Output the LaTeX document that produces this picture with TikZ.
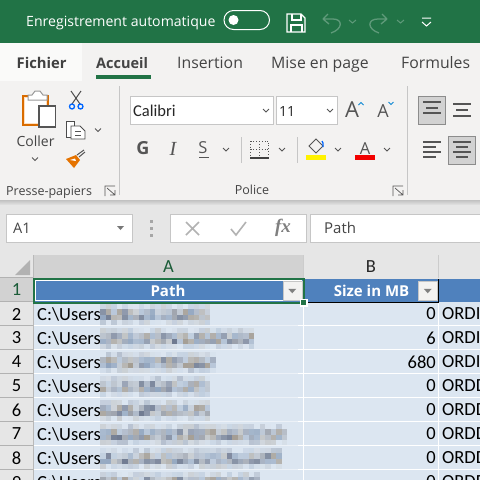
\documentclass[tikz,border=0pt]{standalone}
\usepackage{fontspec}
\usepackage{xcolor}
\setmainfont{Open Sans}
\newfontfamily\cellfont{Carlito}
\newfontfamily\serifont{Liberation Serif}
\usetikzlibrary{positioning}
\definecolor{xlgreen}{HTML}{217346}
\definecolor{ribbonbg}{HTML}{F3F2F1}
\definecolor{gridbg}{HTML}{E6E6E6}
\definecolor{headsel}{HTML}{D2D2D2}
\definecolor{tabink}{HTML}{444444}
\definecolor{headblue}{HTML}{4F81BD}
\definecolor{cellblue}{HTML}{DCE6F1}
\definecolor{boxline}{HTML}{C6C6C6}
\definecolor{iconink}{HTML}{555555}
\definecolor{smudgea}{HTML}{6F7A90}
\definecolor{smudgeb}{HTML}{A39C92}
\definecolor{smudgec}{HTML}{8FA3BD}
\definecolor{smudged}{HTML}{9A9FA8}
\begin{document}
\begin{tikzpicture}[x=1pt,y=-1pt,
    tab/.style={font=\fontsize{15.8}{18}\selectfont,text=tabink,inner sep=0pt,anchor=base west},
    grouplabel/.style={font=\fontsize{12.5}{14}\selectfont,text=tabink,inner sep=0pt},
    inputbox/.style={draw=boxline,fill=white,line width=0.8pt},
    chevron/.style={draw=iconink,line width=0.9pt},
    sep/.style={draw=boxline,line width=0.8pt},
    toggled/.style={draw=gray!90,fill=headsel,line width=0.8pt},
    rulelines/.style={draw=iconink,line width=1.1pt},
    rownum/.style={font=\cellfont\fontsize{18.5}{20}\selectfont,inner sep=0pt},
    celltext/.style={font=\cellfont\fontsize{18.5}{20}\selectfont,inner sep=0pt},
    headtext/.style={font=\bfseries\fontsize{15}{16}\selectfont,text=white,inner sep=0pt},
    launcher/.style={draw=iconink,line width=0.7pt},
    filterbtn/.style={draw=gray!45,fill=ribbonbg,line width=0.5pt}]
    \clip (0,0) rectangle (480,480);
    \useasboundingbox (0,0) rectangle (480,480);
    % bands
    \fill[xlgreen] (0,0) rectangle (480,43);
    \fill[ribbonbg] (0,43) rectangle (480,200);
    \fill[gridbg] (0,205) rectangle (480,480);
    \foreach \y/\k in {200/16,201/13,202/10,203/7,204/4} \fill[black!\k!gridbg] (0,\y) rectangle (480,\y+1);
    \fill[ribbonbg!40!white] (0,43) rectangle (82,81);
    % title bar
    \node[font=\fontsize{14.1}{16}\selectfont,text=white,inner sep=0pt,anchor=base west] (autosave) at (26,26) {Enregistrement automatique};
    \draw[white,line width=1pt,rounded corners=9.5pt] (224,10.5) rectangle (269.5,29.5);
    \fill[white] (233.5,20) circle (5pt);
    \draw[white,line width=1.2pt] (287,14) -- (301,14) -- (305,18) -- (305,32) -- (287,32) -- cycle;
    \draw[white,line width=1.2pt] (292,14) -- (292,20) -- (301,20) -- (301,14) (291,32) -- (291,25) -- (302,25) -- (302,32);
    \draw[white!28!xlgreen,line width=1.3pt] (323,19) -- (328,14) (323,19) -- (329,24) (323,19) -- (333,19) .. controls (343,19) and (343,29) .. (331,33);
    \draw[white!28!xlgreen,line width=1.3pt] (387,19) -- (382,14) (387,19) -- (381,24) (387,19) -- (378,19) .. controls (367,19) and (367,29) .. (379,33);
    \draw[white!28!xlgreen,line width=1pt] (349,20) -- (352.5,23) -- (356,20) (397,20) -- (400.5,23) -- (404,20);
    \draw[white,line width=1pt] (422,18) -- (431,18) (422,22) -- (426.5,26) -- (431,22);
    % tabs
    \node[tab,font=\bfseries\fontsize{14.8}{16}\selectfont,text=black!75] (fichier) at (16.5,68) {Fichier};
    \node[tab,font=\fontsize{14.5}{16}\selectfont\bfseries,text=tabink] (accueil) at (96,68) {Accueil};
    \node[tab] (insertion) at (177,68) {Insertion};
    \node[tab] (miseenpage) at (271,68) {Mise en page};
    \node[tab] (formules) at (401,68) {Formules};
    \fill[xlgreen] (96,75) rectangle (151,79);
    % presse-papiers group
    \draw[draw=orange!85!black,fill=orange!25,line width=1.2pt] (23,96) rectangle (48,125);
    \fill[white] (25,98) rectangle (46,123);
    \draw[draw=gray!80,fill=white,line width=1pt] (28,100) -- (28,95) -- (32,95) -- (35,91) -- (40,91) -- (43,95) -- (47,95) -- (47,100) -- cycle;
    \draw[draw=iconink,fill=white,line width=1.1pt] (39,106) rectangle (55.5,127);
    \draw[draw=black!70,line width=1pt] (71,91) -- (80,104) (81,91) -- (72,104);
    \draw[draw=blue!60!cyan,line width=1.3pt] (72,106.5) circle (2.5pt) (80.5,106.5) circle (2.5pt);
    \draw[draw=black!70,fill=white,line width=0.9pt] (66,121) -- (74,121) -- (74,137) -- (66,137) -- cycle;
    \draw[draw=black!70,fill=white,line width=0.9pt] (71,126) -- (80,126) -- (85,131) -- (85,139) -- (71,139) -- cycle;
    \draw[draw=iconink,line width=0.6pt] (75,131) -- (81,131) (75,135) -- (81,135);
    \draw[chevron] (95,128.5) -- (98,131.5) -- (101,128.5);
    \node[grouplabel,font=\fontsize{14}{16}\selectfont] (coller) at (35.5,141) {Coller};
    \draw[chevron] (32,157.5) -- (35,160.5) -- (38,157.5);
    \fill[orange!90!black] (66,159) -- (76,155) -- (80,160) -- (74,168) -- cycle;
    \fill[white] (70,160) -- (75,158.5) -- (76,161) -- cycle;
    \draw[draw=iconink,line width=1pt] (77,155) -- (84,150) (79,157) -- (85,152);
    \node[grouplabel,anchor=base west] (pressepapiers) at (6,195) {Presse-papiers};
    \draw[launcher] (105,196) -- (105,186) -- (115,186) (107,188) -- (115,195) (115,190) -- (115,195) -- (110,195);
    \draw[sep] (119.5,86) -- (119.5,195);
    % police group
    \draw[inputbox] (130.5,96.5) rectangle (273.5,124.5);
    \node[font=\cellfont\fontsize{16.5}{18}\selectfont,inner sep=0pt,anchor=base west,text=black!85] (fontname) at (133,116) {Calibri};
    \draw[chevron] (263,109) -- (266,112) -- (269,109);
    \draw[inputbox] (276.5,96.5) rectangle (337.5,124.5);
    \node[font=\fontsize{14}{16}\selectfont,inner sep=0pt,anchor=base west,text=black!85] (fontsize) at (279,116) {11};
    \draw[chevron] (327,109) -- (330,112) -- (333,109);
    \node[font=\fontsize{22}{22}\selectfont,text=iconink,inner sep=0pt,anchor=base] (growfont) at (352,117) {A};
    \draw[cyan!70!blue,line width=1pt] (358.5,105) -- (361,102.5) -- (363.5,105);
    \node[font=\fontsize{18}{18}\selectfont,text=iconink,inner sep=0pt,anchor=base] (shrinkfont) at (383,117) {A};
    \draw[cyan!70!blue,line width=1pt] (388.5,102) -- (391,104.5) -- (393.5,102);
    \node[font=\bfseries\fontsize{18}{18}\selectfont,text=iconink,inner sep=0pt] (bold) at (143,148.5) {G};
    \node[font=\serifont\itshape\fontsize{20}{20}\selectfont,text=iconink,inner sep=0pt] (italic) at (173,148.5) {I};
    \node[font=\fontsize{16.5}{18}\selectfont,text=iconink,inner sep=0pt] (underline) at (203,148) {S};
    \draw[iconink,line width=1pt] (199,157.5) -- (209,157.5);
    \draw[chevron] (223,148) -- (226,151) -- (229,148);
    \draw[sep] (241.5,137) -- (241.5,163) (297.5,137) -- (297.5,163);
    \draw[draw=iconink,dotted,line width=0.8pt] (250.5,141) rectangle (268.5,157) (259.5,141) -- (259.5,157) (250.5,149) -- (268.5,149);
    \draw[black!75,line width=1.2pt] (250,158) -- (269,158);
    \draw[chevron] (279,148) -- (282,151) -- (285,148);
    \draw[draw=iconink,line width=0.9pt] (309,146) -- (316,139) -- (323,146) -- (316,153) -- cycle;
    \draw[blue!60!cyan,line width=1.2pt] (322,141) -- (323,143) -- (323,147);
    \fill[yellow] (306,155) rectangle (326,160);
    \draw[chevron] (335,148) -- (338,151) -- (341,148);
    \node[font=\fontsize{16.5}{18}\selectfont,text=iconink,inner sep=0pt,anchor=base] (fontcolor) at (365,154) {A};
    \fill[red!95!black] (355,155) rectangle (375,160);
    \draw[chevron] (384,148) -- (387,151) -- (390,148);
    \node[grouplabel] (police) at (252,190) {Police};
    \draw[launcher] (393,196) -- (393,186) -- (403,186) (395,188) -- (403,195) (403,190) -- (403,195) -- (398,195);
    \draw[sep] (407.5,86) -- (407.5,195);
    % alignment group
    \draw[toggled] (418.5,96.5) rectangle (445.5,124.5);
    \draw[toggled] (448.5,136.5) rectangle (475.5,164.5);
    \draw[rulelines] (423,102) -- (441,102) (426,108) -- (438,108) (423,113) -- (441,113);
    \draw[rulelines] (453,104) -- (471,104) (456,110) -- (468,110) (453,116) -- (471,116);
    \draw[rulelines] (423,142) -- (441,142) (423,147) -- (436,147) (423,152) -- (441,152) (423,157) -- (436,157);
    \draw[rulelines] (453,142) -- (471,142) (456,147) -- (468,147) (453,152) -- (471,152) (456,157) -- (468,157);
    % formula bar
    \draw[inputbox] (6.5,214.5) rectangle (132.5,242.5);
    \node[font=\fontsize{14.5}{16}\selectfont,text=tabink,inner sep=0pt,anchor=base west] (namebox) at (13,233) {A1};
    \fill[iconink!80] (117,226) -- (124,226) -- (120.5,230) -- cycle;
    \foreach \y in {221,228,235} \fill[gray!70] (149.5,\y-1.5) rectangle (152.5,\y+1.5);
    \draw[inputbox] (170.5,214.5) rectangle (306.5,242.5);
    \draw[boxline!90!black,line width=1.6pt] (186,222) -- (199,235) (199,222) -- (186,235);
    \draw[boxline!90!black,line width=1.6pt] (231,229) -- (236,235) -- (246,222);
    \node[font=\serifont\itshape\bfseries\fontsize{19}{20}\selectfont,text=gray,inner sep=0pt] (fxbtn) at (283,228) {fx};
    \draw[inputbox] (310.5,214.5) rectangle (482,242.5);
    \node[font=\fontsize{15}{16}\selectfont,text=tabink,inner sep=0pt,anchor=base west] (formula) at (324,233) {Path};
    % sheet headers
    \fill[headsel] (33,255) rectangle (303,278);
    \fill[headsel] (0,278) rectangle (33,302);
    \fill[gray!60] (30,260) -- (30,275) -- (15,275) -- cycle;
    \node[rownum,text=xlgreen!80!black] (colA) at (168.5,267) {A};
    \node[rownum,text=black!85] (colB) at (371,267) {B};
    \draw[gray!40,line width=0.7pt] (303.5,255) -- (303.5,278) (438.5,255) -- (438.5,278);
    \draw[gray!55,line width=0.8pt] (33.5,255) -- (33.5,480);
    % data cells
    \fill[cellblue] (34,302) rectangle (480,480);
    \fill[headblue] (34,279) rectangle (480,302);
    \draw[black,line width=0.9pt] (304,302.5) -- (438,302.5) (438.5,279) -- (438.5,302.5);
    \foreach \r in {326,350,374,398,422,446,470} {
        \draw[white,line width=1pt] (34,\r-0.5) -- (480,\r-0.5);
        \draw[cellblue!55!white,line width=1pt] (100,\r-0.5) -- (298,\r-0.5);
        \draw[gray!60,line width=0.9pt] (0,\r-0.5) -- (33,\r-0.5);
    }
    \draw[gray!60,line width=0.9pt] (0,301.5) -- (33,301.5) (0,277.5) -- (33,277.5);
    \draw[white,line width=1pt] (303.5,302) -- (303.5,480) (438.5,303) -- (438.5,480);
    % row numbers
    \foreach \n [evaluate=\n as \ypos using {278+24*(\n-1)+12}] in {2,...,9} {
        \node[rownum] (row\n) at (16.5,\ypos) {\n};
    }
    \node[rownum,text=xlgreen!80!black] (row1) at (16.5,290) {1};
    % headers in table
    \node[headtext] (pathhead) at (168,290.5) {Path};
    \node[headtext] (sizehead) at (371.5,290.5) {Size in MB};
    \draw[white,line width=0.8pt] (35.2,280.2) rectangle (301.8,300.8);
    \foreach \x/\name in {282.5/pathfilter,418/sizefilter} {
        \node[filterbtn,minimum width=19pt,minimum height=19pt,inner sep=0pt,anchor=north west] (\name) at (\x,281) {};
        \fill[gray] (\name.center) ++(-4,-2) -- ++(8,0) -- ++(-4,4.5) -- cycle;
    }
    \draw[xlgreen,line width=2pt] (33.5,278.5) rectangle (303.5,302.5);
    \fill[white] (300,299) rectangle (308,307);
    \fill[xlgreen] (301,300) rectangle (306,305);
    % table rows: size and type
    \foreach \n/\sz/\kind in {2/0/ORDI,3/6/ORDI,4/680/ORDI,5/0/ORDD,6/0/ORDD,7/0/ORDD,8/0/ORDD,9/0/ORDD} {
        \pgfmathsetmacro{\ypos}{278+24*(\n-1)+12}
        \node[celltext,anchor=west] (path\n) at (37,\ypos) {C:\textbackslash Users};
        \node[celltext,anchor=east] (size\n) at (436,\ypos) {\sz};
        \node[celltext,anchor=west] (kind\n) at (442,\ypos) {\kind};
    }
    % blurred part of the paths
    \pgfmathsetseed{4711}
    \foreach \n/\len in {2/19,3/27,4/20,5/19,6/19,7/33,8/32,9/28} {
        \pgfmathsetmacro{\ytop}{278+24*(\n-1)+2}
        \foreach \i in {0,...,\len} {
            \foreach \j/\lo/\hi in {0/0/35,1/25/90,2/35/100,3/0/35} {
                \pgfmathtruncatemacro{\tone}{random(\lo,\hi)}
                \pgfmathtruncatemacro{\hue}{random(1,4)}
                \pgfmathsetmacro{\bx}{100+\i*5.5}
                \pgfmathsetmacro{\by}{\ytop+\j*5.3}
                \ifcase\hue\or\def\huename{smudgea}\or\def\huename{smudgeb}\or\def\huename{smudgec}\or\def\huename{smudged}\fi
                \fill[\huename!\tone!cellblue] (\bx,\by) rectangle ++(5.5,5.3);
            }
        }
    }
\end{tikzpicture}
\end{document}
